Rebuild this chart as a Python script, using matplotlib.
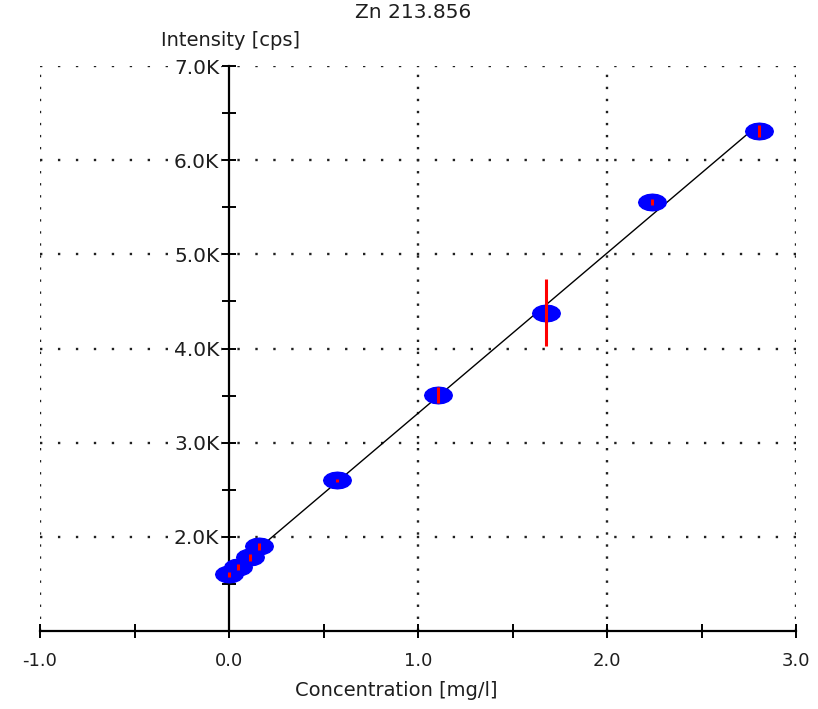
import numpy as np
import matplotlib
matplotlib.use('Agg')
import matplotlib.pyplot as plt
from matplotlib.ticker import MultipleLocator, FuncFormatter

# Calibration data
conc = [0.0, 0.045, 0.11, 0.16, 0.571, 1.106, 1.677, 2.238, 2.804]
intensity = [1602, 1677, 1783, 1899, 2599, 3501, 4381, 5558, 6311]
err = [25, 30, 40, 40, 20, 85, 355, 30, 65]

title = 'Zn 213.856'
xlabel = 'Concentration [mg/l]'
ylabel = 'Intensity [cps]'

txt = '#1e1e1e'

fig = plt.figure(figsize=(8.18, 7.09), dpi=100)
ax = fig.add_axes([40 / 818, 78 / 709, 756 / 818, 565 / 709])
ax.set_xlim(-1.0, 3.0)
ax.set_ylim(1000, 7000)

# dotted grid
for yv in range(2000, 7001, 1000):
    ax.axhline(yv, color='#202020', lw=1.7, dashes=(1, 6.6), zorder=0)
for xv in [-1.0, 1.0, 2.0, 3.0]:
    ax.axvline(xv, color='#202020', lw=1.7, dashes=(1, 4.1), zorder=0)

# spines
for s in ['top', 'right']:
    ax.spines[s].set_visible(False)
ax.spines['left'].set_position(('data', 0))
ax.spines['left'].set_linewidth(1.6)
ax.spines['bottom'].set_linewidth(1.6)

ax.xaxis.set_major_locator(MultipleLocator(1.0))
ax.xaxis.set_minor_locator(MultipleLocator(0.5))
ax.yaxis.set_major_locator(MultipleLocator(1000))
ax.yaxis.set_minor_locator(MultipleLocator(500))
ax.xaxis.set_major_formatter(FuncFormatter(lambda v, p: f'{v:.1f}'))
ax.yaxis.set_major_formatter(FuncFormatter(lambda v, p: '' if v < 1500 else f'{v / 1000:.1f}K'))
ax.tick_params(which='both', direction='inout', length=10, width=1.4, color='black')
ax.tick_params(axis='x', which='major', labelsize=13, labelcolor=txt, pad=10)
ax.tick_params(axis='y', which='major', labelsize=14.5, labelcolor=txt, pad=2)
for lab in ax.get_yticklabels():
    lab.set_bbox(dict(facecolor='white', edgecolor='none', pad=1))

# regression line
k, b = np.polyfit(conc, intensity, 1)
lx = np.array([min(conc), max(conc)])
ax.plot(lx, k * lx + b, color='black', lw=1.0, zorder=2)

# markers: blue blobs, wider than tall
t = np.linspace(0, 2 * np.pi, 17)
blob = np.column_stack([np.cos(t), 0.6 * np.sin(t)])
ax.plot(conc, intensity, linestyle='none', marker=blob, markersize=20,
        markerfacecolor='#0000ff', markeredgecolor='#0000ff', zorder=3)
ax.errorbar(conc, intensity, yerr=err, fmt='none', ecolor='#ff0000',
            elinewidth=2.2, capsize=0, zorder=4)

fig.text(413 / 818, 1 - 13 / 709, title, ha='center', va='center', fontsize=14.5, color=txt)
fig.text(230 / 818, 1 - 40 / 709, ylabel, ha='center', va='center', fontsize=14, color=txt)
fig.text(396 / 818, 1 - 690 / 709, xlabel, ha='center', va='center', fontsize=14, color=txt)

fig.savefig('out.png', dpi=100, facecolor='white')
